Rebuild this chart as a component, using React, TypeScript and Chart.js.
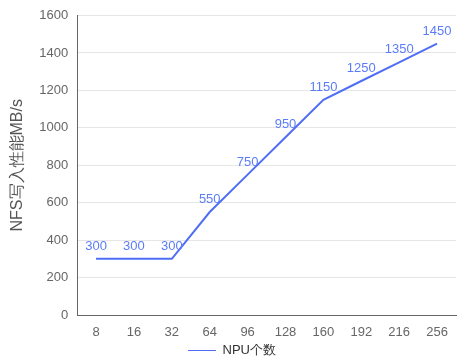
import React, { useEffect, useRef } from "react";
import { Chart, registerables } from "chart.js";

Chart.register(...registerables);

const categories = ["8", "16", "32", "64", "96", "128", "160", "192", "216", "256"];
const values = [300, 300, 300, 550, 750, 950, 1150, 1250, 1350, 1450];
const seriesName = "NPU个数";
const yTitle = "NFS写入性能MB/s";

const FONT = "'Liberation Sans', Arial, sans-serif";
const LINE = "#4f6ef5";
const LABEL = "#5b7cf7";

const labelPlugin = {
  id: "pointLabels",
  afterDatasetsDraw(chart: any) {
    const ctx = chart.ctx;
    const meta = chart.getDatasetMeta(0);
    ctx.save();
    ctx.font = `13px ${FONT}`;
    ctx.fillStyle = LABEL;
    ctx.textAlign = "center";
    ctx.textBaseline = "bottom";
    meta.data.forEach((pt: any, i: number) => {
      ctx.fillText(String(values[i]), pt.x, pt.y - 6);
    });
    ctx.restore();
  },
};

export default function App() {
  const ref = useRef<HTMLCanvasElement>(null);
  useEffect(() => {
    if (!ref.current) return;
    const chart = new Chart(ref.current, {
      type: "line",
      data: {
        labels: categories,
        datasets: [
          {
            label: seriesName,
            data: values,
            borderColor: LINE,
            backgroundColor: LINE,
            borderWidth: 2,
            pointRadius: 0,
            pointHoverRadius: 0,
            tension: 0,
          },
        ],
      },
      options: {
        animation: false,
        responsive: true,
        maintainAspectRatio: false,
        layout: { padding: { top: 0, right: 6, left: 8, bottom: 0 } },
        plugins: {
          legend: {
            position: "bottom",
            maxHeight: 18,
            labels: {
              usePointStyle: true,
              pointStyle: "line",
              pointStyleWidth: 28,
              boxWidth: 28,
              font: { family: FONT, size: 13 },
              color: "#333",
              padding: 0,
              generateLabels: (chart: any) =>
                Chart.defaults.plugins.legend.labels
                  .generateLabels(chart)
                  .map((l: any) => ({ ...l, lineWidth: 1 })),
            },
          },
          tooltip: { enabled: false },
        },
        scales: {
          x: {
            offset: true,
            grid: { display: false, drawTicks: false },
            border: { color: "#666", width: 1 },
            ticks: { font: { family: FONT, size: 13 }, color: "#666", padding: 10 },
            afterFit: (s: any) => {
              s.height = 29;
            },
          },
          y: {
            min: 0,
            max: 1600,
            ticks: {
              stepSize: 200,
              font: { family: FONT, size: 13, lineHeight: 1 },
              color: "#666",
              padding: 9,
              callback: (v: any) => String(v),
            },
            grid: { color: "#e6e6e6", drawTicks: false },
            border: { color: "#666", width: 1 },
            title: {
              display: true,
              text: yTitle,
              font: { family: FONT, size: 16 },
              color: "#555",
              padding: { top: 0, bottom: 3 },
            },
          },
        },
      },
      plugins: [labelPlugin],
    });
    return () => chart.destroy();
  }, []);
  return (
    <div style={{ position: "fixed", left: 0, top: 0, width: 462, height: 362 }}>
      <canvas ref={ref} />
    </div>
  );
}
